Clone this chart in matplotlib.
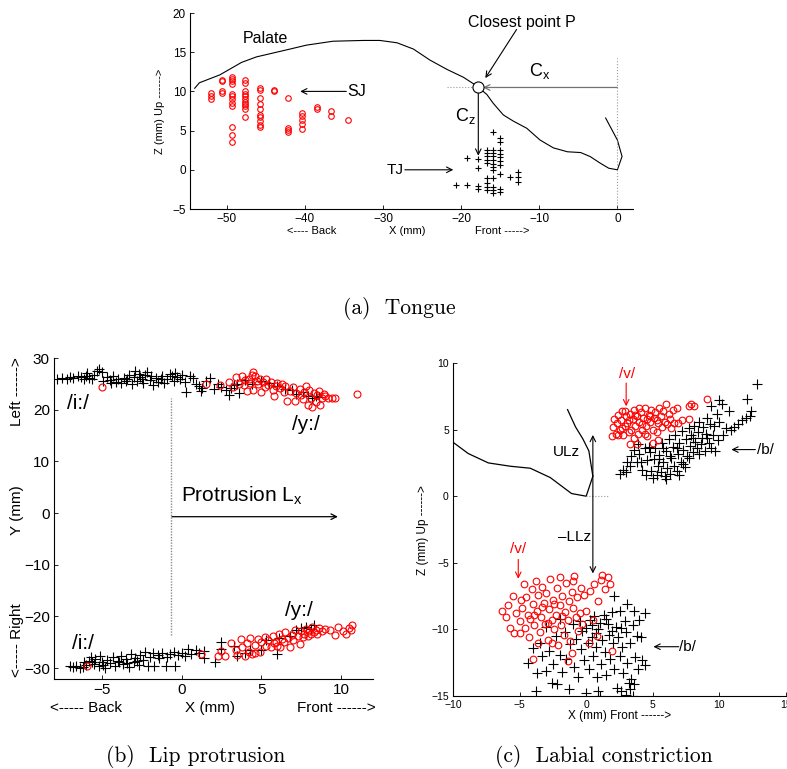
import numpy as np
import matplotlib
matplotlib.use("Agg")
import matplotlib.pyplot as plt

plt.rcParams['font.family'] = ['Liberation Sans', 'DejaVu Sans']
plt.rcParams['mathtext.fontset'] = 'custom'
plt.rcParams['mathtext.rm'] = 'Liberation Sans'
plt.rcParams['mathtext.it'] = 'Liberation Sans:italic'
plt.rcParams['axes.unicode_minus'] = True

# ---------------- Panel (a) data: Tongue ----------------
palate_x = [-54.1, -53.5, -50.9, -48.1, -46.2, -41.9, -39.8, -36.4, -32.5, -30.4, -28.2, -26.1,
            -24.0, -21.8, -19.7, -18.0, -16.7, -15.9, -14.6, -13.3, -11.6, -9.9, -8.2, -6.4,
            -4.7, -3.5, -2.2, -1.1, 0.0, 0.6, 0.0, -1.5]
palate_z = [10.4, 11.1, 12.1, 13.7, 14.4, 15.4, 15.9, 16.4, 16.5, 16.5, 16.2, 15.4,
            14.0, 12.8, 11.8, 10.7, 9.6, 8.5, 7.0, 6.2, 5.3, 3.8, 2.8, 2.3,
            2.2, 1.7, 0.85, 0.2, 0.0, 1.7, 3.8, 6.6]

sj_x = [-52.0, -52.0, -52.0,
        -50.6, -50.6, -50.6, -50.6,
        -49.3, -49.3, -49.3, -49.3, -49.3, -49.3, -49.3, -49.3, -49.3, -49.3, -49.3, -49.3,
        -47.6, -47.6, -47.6, -47.6, -47.6, -47.6, -47.6, -47.6, -47.6, -47.6, -47.6,
        -45.8, -45.8, -45.8, -45.8, -45.8, -45.8, -45.8, -45.8, -45.8, -45.8,
        -44.0, -44.0,
        -42.2, -42.2, -42.2, -42.2,
        -40.4, -40.4, -40.4, -40.4, -40.4,
        -38.5, -38.5, -36.6, -36.6, -34.5]
sj_z = [9.8, 9.4, 9.0,
        11.5, 11.3, 10.0, 9.8,
        11.9, 11.6, 11.3, 11.0, 9.7, 9.4, 9.0, 8.5, 8.2, 5.5, 4.5, 3.6,
        11.4, 11.1, 10.0, 9.7, 9.4, 9.0, 8.7, 8.4, 8.1, 7.7, 6.7,
        10.4, 10.2, 9.2, 8.4, 7.7, 7.0, 6.7, 6.2, 5.7, 5.4,
        10.2, 10.0,
        9.1, 5.3, 5.1, 4.8,
        7.3, 6.8, 6.3, 5.8, 5.2,
        8.0, 7.7, 7.5, 6.9, 6.3]

tj_x = [-15.9, -15.0, -15.0,
        -16.7, -16.7, -16.7, -16.7, -16.7,
        -15.9, -15.9, -15.9, -15.9, -15.9, -15.9, -15.9,
        -15.0, -15.0, -15.0, -15.0, -15.0,
        -19.3, -17.9, -17.9,
        -16.7, -15.9, -15.0, -13.8, -12.7, -12.7, -12.7,
        -20.6, -19.2, -17.9, -17.9,
        -16.7, -16.7, -16.7, -15.9, -15.9, -15.9, -15.0, -15.0]
tj_z = [4.8, 4.0, 3.6,
        2.5, 2.1, 1.7, 1.3, 0.9,
        2.5, 2.1, 1.7, 1.2, 0.8, 0.4, 0.0,
        2.5, 2.0, 1.6, 1.1, 0.6,
        1.5, 1.4, 0.2,
        -1.06, -1.06, -0.5, -0.9, -0.3, -0.9, -1.5,
        -2.0, -2.0, -2.1, -2.5,
        -1.7, -2.2, -2.6, -2.2, -2.6, -3.0, -2.4, -2.8]

P_x, P_z = -17.8, 10.5

# ---------------- Panel (b) data: Lip protrusion ----------------
up_i = [(-7.8,26.0),(-7.5,26.1),(-7.2,26.0),(-7.0,26.3),(-6.8,26.2),(-6.5,26.5),(-6.3,26.4),(-6.0,26.6),
        (-5.8,26.1),(-5.6,25.9),(-5.5,26.8),(-5.3,27.5),(-5.2,27.9),(-5.0,27.3),(-4.9,25.6),(-4.7,26.3),
        (-4.5,25.8),(-4.3,26.5),(-4.1,25.4),(-4.0,26.0),(-3.8,25.2),(-3.6,26.2),(-3.5,25.5),(-3.3,26.8),
        (-3.1,25.0),(-3.0,26.3),(-2.8,25.6),(-2.7,27.0),(-2.5,26.0),(-2.4,25.2),(-2.3,26.8),(-2.2,27.3),
        (-2.0,25.8),(-1.9,26.5),(-1.8,24.8),(-1.6,26.2),(-1.5,25.4),(-1.3,25.9),(-1.1,25.2),(-0.9,26.0),
        (-0.7,27.0),(-0.6,26.6),(-0.4,27.1),(-0.3,26.4),(-0.1,26.0),(0.0,26.8),(0.2,25.3),(0.3,23.4),
        (0.5,26.5),(0.7,26.2),(0.9,25.0),(1.1,24.6),(1.2,23.6),(1.3,24.2),(1.5,25.6),(1.8,26.2),
        (2.0,24.0),(2.3,25.0),(2.5,24.4),(2.8,23.8),(3.0,22.8),(3.1,24.2),(3.3,24.8),(3.5,25.0),
        (3.6,23.2),(4.0,25.8),(4.4,24.9),(5.0,25.5),(5.5,25.2),(6.0,24.5),(6.5,24.0),(6.9,23.8),
        (7.2,23.0),(7.6,23.4),(7.9,22.6),(8.2,22.2),(8.4,22.7),(8.6,22.4),
        (-6.1,25.9),(-4.4,25.1),(-3.4,26.0),(-2.6,26.4),(-1.2,26.6),(-0.5,25.6),(-5.9,27.1),(-2.9,27.4)]
up_y = [(-5.0,24.4),(1.5,25.0),(2.4,24.8),(3.0,25.3),(3.4,26.3),(3.6,25.0),(3.8,26.5),(3.9,24.7),
        (4.0,25.7),(4.1,23.6),(4.2,26.0),(4.3,25.2),(4.4,26.8),(4.5,27.2),(4.6,26.5),(4.7,25.6),
        (4.8,24.9),(4.9,26.0),(5.0,23.4),(5.1,25.3),(5.3,26.0),(5.4,24.8),(5.6,25.4),(5.8,22.6),
        (5.9,24.6),(6.0,25.2),(6.2,24.2),(6.3,25.0),(6.5,24.5),(6.6,21.7),(6.8,23.6),(7.0,24.4),
        (7.1,21.7),(7.2,23.2),(7.4,24.0),(7.5,22.9),(7.7,23.5),(7.8,24.6),(7.9,21.0),(8.0,23.9),
        (8.1,22.2),(8.2,20.6),(8.3,23.3),(8.4,21.4),(8.5,22.8),(8.6,23.6),(8.7,21.0),(8.8,22.3),
        (9.0,22.6),(9.2,22.2),(9.4,22.3),(9.6,22.3),(11.0,23.0),(6.4,23.5),(5.2,24.4),(7.6,22.0),
        (8.9,23.0),(3.2,24.4),(4.5,23.8),(5.7,23.9)]
lo_i = [(-7.0,-29.6),(-6.8,-29.8),(-6.6,-29.5),(-6.4,-29.9),(-6.2,-29.7),(-6.0,-29.4),(-5.8,-28.6),
        (-5.7,-27.9),(-5.5,-29.2),(-5.4,-28.2),(-5.2,-29.6),(-5.1,-27.6),(-5.0,-28.8),(-4.8,-29.9),
        (-4.7,-28.4),(-4.5,-29.0),(-4.3,-27.9),(-4.2,-29.5),(-4.0,-28.6),(-3.8,-27.6),(-3.7,-29.2),
        (-3.5,-28.2),(-3.3,-29.7),(-3.2,-27.3),(-3.0,-28.8),(-2.9,-28.0),(-2.7,-29.3),(-2.6,-27.5),
        (-2.4,-28.5),(-2.3,-26.8),(-2.1,-29.5),(-2.0,-27.8),(-1.8,-27.0),(-1.7,-29.6),(-1.5,-27.4),
        (-1.4,-28.0),(-1.2,-27.0),(-1.0,-29.6),(-0.9,-27.8),(-0.7,-27.2),(-0.5,-26.8),(-0.4,-29.6),
        (-0.2,-27.5),(0.0,-27.0),(0.2,-27.6),(0.4,-26.2),(0.6,-27.2),(0.9,-26.4),(1.1,-27.0),
        (1.4,-26.7),(1.4,-28.0),(2.1,-28.8),(2.5,-24.9),(2.5,-26.3),(3.3,-25.8),(3.5,-27.6),
        (4.0,-27.0),(4.3,-26.5),(5.0,-26.4),(5.3,-24.5),(6.0,-27.2),(6.1,-24.2),(6.8,-23.7),
        (7.2,-22.7),(7.5,-22.3),(7.8,-22.0),(8.1,-22.4),(8.3,-21.7),
        (-6.1,-28.9),(-4.9,-29.3),(-3.9,-28.9),(-2.8,-28.6),(-5.6,-28.9),(-3.4,-29.0)]
lo_y = [(-5.9,-29.6),(1.2,-27.2),(2.3,-27.7),(2.7,-27.7),(2.5,-26.6),(3.1,-25.1),(3.4,-26.4),
        (3.5,-27.5),(3.7,-24.4),(3.8,-26.0),(4.0,-27.6),(4.1,-25.1),(4.2,-26.8),(4.3,-24.2),
        (4.4,-27.3),(4.6,-25.6),(4.8,-24.3),(4.9,-26.8),(5.0,-25.0),(5.2,-23.9),(5.3,-25.7),
        (5.4,-24.6),(5.6,-26.0),(5.7,-23.8),(5.9,-24.9),(6.0,-25.8),(6.1,-23.4),(6.3,-24.4),
        (6.4,-25.0),(6.5,-23.0),(6.7,-24.1),(6.8,-26.0),(6.9,-23.5),(7.0,-24.6),(7.1,-22.6),
        (7.3,-23.7),(7.4,-25.4),(7.5,-22.9),(7.6,-24.0),(7.7,-23.3),(7.8,-22.4),(7.9,-23.8),
        (8.0,-22.9),(8.1,-23.4),(8.2,-22.1),(8.3,-23.0),(8.4,-22.6),(8.5,-23.3),(8.6,-22.3),
        (8.8,-22.8),(9.0,-22.5),(9.3,-22.6),(9.6,-23.6),(9.8,-22.1),(10.1,-22.8),(10.3,-23.3),
        (10.5,-22.3),(10.7,-21.7),(10.6,-22.6),(6.2,-26.0),(4.6,-27.0),(5.8,-25.2)]

# ---------------- Panel (c) data: Labial constriction ----------------
ul_x = [-10.0, -8.85, -7.35, -5.7, -4.2, -2.7, -1.1, 0.0, 0.5, 0.2, -0.25, -0.8, -1.4]
ul_z = [4.05, 3.2, 2.5, 2.25, 2.1, 1.4, 0.2, 0.0, 1.5, 3.4, 4.3, 5.2, 6.5]

c_up_v = [(1.9,4.5),(2.0,5.2),(2.1,5.8),(2.2,4.7),(2.3,5.5),(2.4,6.1),(2.5,5.0),(2.6,5.7),(2.7,6.4),
          (2.8,4.6),(2.9,5.3),(3.0,6.0),(3.1,5.5),(3.2,4.8),(3.3,6.2),(3.3,3.9),(3.4,5.0),(3.5,5.8),
          (3.6,6.5),(3.7,5.3),(3.8,3.9),(3.8,6.0),(3.9,4.7),(4.0,5.6),(4.1,6.3),(4.2,5.0),(4.3,5.9),
          (4.4,6.6),(4.5,5.3),(4.6,4.5),(4.7,6.1),(4.8,5.6),(4.9,6.5),(5.0,5.0),(5.1,5.9),(5.2,6.3),
          (5.3,4.8),(5.4,4.2),(5.4,5.5),(5.5,6.6),(5.6,6.0),(5.7,5.2),(5.8,6.4),(5.9,5.6),(6.0,6.9),
          (6.1,5.4),(6.2,6.2),(6.3,5.8),(6.4,5.1),(6.5,6.5),(6.6,5.5),(6.8,6.6),(6.9,5.5),(7.2,5.7),
          (7.7,5.8),(7.7,6.8),(7.9,6.9),(8.1,6.8),(9.1,7.3),(2.4,4.6),(3.6,4.4),(4.4,4.7),(5.0,4.0),
          (2.7,5.1),(4.0,6.6),(4.8,6.0),(3.2,5.7),(4.2,5.4),(5.3,5.7),(3.7,6.1),(4.6,5.8),(2.9,6.4)]
c_up_b = [(2.5,1.7),(2.8,2.0),(3.0,1.8),(3.1,2.6),(3.3,2.3),(3.4,3.0),(3.6,3.5),(3.8,2.6),(4.0,3.2),
          (4.2,2.0),(4.4,3.6),(4.5,1.6),(4.6,2.7),(4.8,3.3),(4.9,1.9),(5.0,1.4),(5.1,2.8),(5.2,3.6),
          (5.3,1.6),(5.4,2.3),(5.5,3.1),(5.6,1.8),(5.7,4.0),(5.8,2.6),(5.9,1.5),(6.0,3.4),(6.1,2.1),
          (6.2,4.3),(6.3,1.7),(6.4,2.9),(6.5,3.7),(6.6,2.3),(6.7,4.6),(6.8,1.9),(6.9,3.2),(7.0,4.0),
          (7.1,2.6),(7.2,4.9),(7.3,3.5),(7.4,2.2),(7.5,4.3),(7.6,3.0),(7.7,5.1),(7.8,3.8),(7.9,4.6),
          (8.0,3.3),(8.1,5.3),(8.2,4.1),(8.3,3.6),(8.4,4.8),(8.5,5.6),(8.6,3.9),(8.7,4.4),(8.8,5.2),
          (8.9,3.4),(9.0,4.7),(9.1,5.9),(9.2,4.0),(9.3,5.4),(9.4,3.6),(9.5,4.6),(9.6,5.3),(9.7,3.4),
          (9.8,6.2),(9.9,4.2),(10.0,5.6),(10.2,6.9),(10.3,4.6),(10.5,5.1),(10.7,6.4),(10.9,5.0),
          (11.1,5.2),(11.4,5.4),(11.7,5.7),(12.0,5.9),(12.1,7.3),(12.3,6.0),(12.4,6.4),(12.8,8.4),
          (7.0,1.6),(6.0,1.3),(5.5,2.8),(8.5,3.2),(3.9,3.9),(4.7,3.7),(9.4,6.8),(10.0,7.2),
          (6.3,3.0),(7.3,2.4),(5.8,3.6),(8.0,4.4),(9.1,4.4),(6.8,3.6),(7.7,2.9),(4.1,2.6)]
c_lo_v = [(-6.3,-8.6),(-6.0,-9.1),(-5.9,-8.2),(-5.7,-9.9),(-5.5,-7.5),(-5.4,-10.3),(-5.3,-8.8),
          (-5.0,-9.4),(-4.9,-7.8),(-4.8,-8.4),(-4.7,-6.6),(-4.6,-9.9),(-4.5,-7.6),(-4.4,-8.9),
          (-4.3,-10.6),(-4.2,-9.2),(-4.1,-7.0),(-4.0,-12.2),(-4.0,-8.1),(-3.9,-9.7),(-3.8,-6.4),
          (-3.7,-8.6),(-3.6,-7.4),(-3.5,-10.2),(-3.4,-9.1),(-3.3,-6.8),(-3.2,-8.0),(-3.1,-9.6),
          (-3.0,-7.3),(-2.9,-10.8),(-2.8,-8.5),(-2.7,-6.2),(-2.6,-9.3),(-2.5,-7.8),(-2.4,-10.0),
          (-2.3,-8.9),(-2.2,-6.9),(-2.1,-11.2),(-2.0,-8.2),(-1.9,-9.7),(-1.8,-7.5),(-1.7,-10.4),
          (-1.6,-8.7),(-1.5,-6.5),(-1.4,-12.4),(-1.4,-9.3),(-1.3,-7.9),(-1.2,-10.9),(-1.1,-11.8),
          (-1.0,-8.4),(-0.9,-6.0),(-0.8,-9.1),(-0.7,-7.6),(-0.6,-10.1),(-0.5,-8.8),(-0.4,-6.9),
          (-0.3,-9.6),(-0.2,-7.4),(0.0,-8.6),(0.2,-11.0),(0.3,-7.1),(0.5,-9.3),(0.6,-6.6),
          (0.8,-10.5),(0.9,-7.9),(1.1,-6.3),(1.2,-5.95),(1.4,-7.0),(1.6,-6.1),(1.8,-6.6),
          (1.9,-11.6),(-2.6,-11.0),(-3.6,-11.0),(-5.0,-10.3),(-2.0,-6.1),(-1.0,-6.4),
          (-3.3,-8.3),(-2.4,-8.1),(-1.8,-9.0),(-2.9,-9.5),(-3.9,-8.9),(-1.1,-7.2)]
c_lo_b = [(-4.4,-12.5),(-4.0,-11.4),(-3.8,-14.6),(-3.7,-13.3),(-3.5,-11.0),(-3.3,-12.0),(-3.0,-13.1),
          (-2.8,-11.6),(-2.6,-14.0),(-2.5,-12.6),(-2.3,-10.5),(-2.2,-14.1),(-2.0,-11.9),(-1.8,-13.2),
          (-1.6,-10.2),(-1.5,-12.2),(-1.3,-14.5),(-1.2,-11.1),(-1.0,-9.6),(-0.9,-12.8),(-0.8,-10.7),
          (-0.6,-13.6),(-0.5,-9.4),(-0.4,-11.5),(-0.3,-10.1),(-0.2,-12.3),(0.0,-14.8),(0.0,-9.9),
          (0.1,-11.0),(0.2,-13.0),(0.3,-9.3),(0.4,-10.6),(0.5,-12.0),(0.6,-9.0),(0.7,-11.3),
          (0.8,-13.6),(0.9,-14.6),(0.9,-10.0),(1.0,-9.5),(1.1,-12.6),(1.2,-10.8),(1.3,-8.9),
          (1.4,-11.7),(1.5,-13.4),(1.6,-9.6),(1.7,-10.4),(1.8,-12.2),(1.9,-8.7),(2.0,-11.0),
          (2.1,-7.5),(2.1,-13.0),(2.2,-9.8),(2.3,-14.4),(2.4,-10.6),(2.5,-12.0),(2.5,-8.6),
          (2.6,-14.6),(2.7,-11.3),(2.8,-13.3),(2.9,-9.4),(3.0,-10.2),(3.1,-8.1),(3.1,-12.5),
          (3.2,-14.0),(3.3,-11.0),(3.4,-13.7),(3.5,-9.7),(3.6,-8.6),(3.6,-14.1),(3.7,-12.1),
          (3.8,-10.5),(3.9,-13.0),(4.0,-9.3),(4.1,-10.6),(4.2,-12.3),(4.4,-8.8),(4.4,-12.7),
          (1.0,-15.0),(3.0,-14.9),(3.5,-15.0),(-3.0,-9.8),(-2.0,-9.2),(0.4,-9.7),(1.5,-9.2),
          (2.6,-9.9),(0.7,-10.3),(1.9,-10.1),(3.3,-14.5)]


def xy(pts):
    a = np.array(pts)
    return a[:, 0], a[:, 1]


def style(ax, fs):
    for s in ('top', 'right'):
        ax.spines[s].set_visible(False)
    for s in ('left', 'bottom'):
        ax.spines[s].set_linewidth(0.8)
    ax.tick_params(direction='in', length=3, width=0.6, labelsize=fs, pad=3)


W, H = 787, 769
fig = plt.figure(figsize=(W / 100, H / 100), dpi=100)


def rect(l, r, t, b):
    return [l / W, 1 - b / H, (r - l) / W, (b - t) / H]


red = '#ff0000'
circ = dict(linestyle='none', marker='o', mfc='none', mec=red, mew=0.8)
plus = dict(linestyle='none', marker='+', color='k', mew=0.8)
arrow_k = dict(arrowstyle='->', color='k', lw=0.8, shrinkA=0, shrinkB=0)
cap = dict(fontsize=15.5, family='cmr10', ha='center', va='center')

# ---------------- (a) ----------------
ax = fig.add_axes(rect(190, 633, 13, 209))
ax.set_xlim(-54.7, 2.0)
ax.set_ylim(-5, 20)
style(ax, 8.5)
ax.set_xticks([-50, -40, -30, -20, -10, 0])
ax.set_yticks([-5, 0, 5, 10, 15, 20])
ax.plot(palate_x, palate_z, color='k', lw=0.8)
ax.plot(sj_x, sj_z, ms=4, **circ)
ax.plot(tj_x, tj_z, ms=5, **plus)
ax.plot([-21.8, -18.4], [P_z, P_z], ls=':', color='0.6', lw=0.8)
ax.plot([0, 0], [-5, 14.2], ls=':', color='0.6', lw=0.8)
ax.annotate('', xy=(-17.2, P_z), xytext=(0, P_z),
            arrowprops=dict(arrowstyle='->', color='0.45', lw=0.9, shrinkA=0, shrinkB=0))
ax.annotate('', xy=(P_x, 1.8), xytext=(P_x, 10.0), arrowprops=arrow_k)
ax.plot([P_x], [P_z], marker='o', ms=8, mfc='white', mec='k', mew=0.8, zorder=5)
ax.annotate('', xy=(-16.9, 11.7), xytext=(-12.9, 17.9), arrowprops=arrow_k)
ax.text(-45.1, 16.8, 'Palate', fontsize=11.5, ha='center', va='center')
ax.text(-12.2, 18.75, 'Closest point P', fontsize=11.5, ha='center', va='center')
ax.text(-9.9, 12.6, r'C$_\mathrm{x}$', fontsize=13, ha='center', va='center')
ax.text(-19.4, 6.8, r'C$_\mathrm{z}$', fontsize=13, ha='center', va='center')
ax.text(-34.6, 9.95, 'SJ', fontsize=11.5, ha='left', va='center')
ax.annotate('', xy=(-40.6, 10.0), xytext=(-34.7, 10.0), arrowprops=arrow_k)
ax.text(-27.3, 0.0, 'TJ', fontsize=11, ha='right', va='center')
ax.annotate('', xy=(-21.0, 0.0), xytext=(-27.2, 0.0), arrowprops=arrow_k)
fig.text(160 / W, 1 - 111 / H, 'Z (mm) Up ------>', rotation=90, fontsize=8, ha='center', va='center')
fig.text(312 / W, 1 - 231 / H, '<---- Back', fontsize=8, ha='center', va='center')
fig.text(407 / W, 1 - 231 / H, 'X (mm)', fontsize=8, ha='center', va='center')
fig.text(502 / W, 1 - 231 / H, 'Front ----->', fontsize=8, ha='center', va='center')
fig.text(399 / W, 1 - 309 / H, '(a)  Tongue', **cap)

# ---------------- (b) ----------------
ax = fig.add_axes(rect(54, 373, 358, 679))
ax.set_xlim(-8, 12)
ax.set_ylim(-32.1, 30)
style(ax, 11)
ax.set_xticks([-5, 0, 5, 10])
ax.set_yticks([-30, -20, -10, 0, 10, 20, 30])
x, y = xy(up_i); ax.plot(x, y, ms=6.5, **plus)
x, y = xy(lo_i); ax.plot(x, y, ms=6.5, **plus)
x, y = xy(up_y); ax.plot(x, y, ms=5, **circ)
x, y = xy(lo_y); ax.plot(x, y, ms=5, **circ)
ax.plot([-0.65, -0.65], [-23.6, 22.2], ls=(0, (1, 1)), color='0.55', lw=1.0)
ax.annotate('', xy=(9.8, -0.7), xytext=(-0.6, -0.7),
            arrowprops=dict(arrowstyle='->', color='k', lw=0.9, shrinkA=0, shrinkB=0))
ax.text(-0.05, 3.4, r'Protrusion L$_\mathrm{x}$', fontsize=15, ha='left', va='center')
ax.text(-7.2, 21.2, '/i:/', fontsize=15, ha='left', va='center')
ax.text(6.9, 17.1, '/y:/', fontsize=15, ha='left', va='center')
ax.text(-6.9, -25.3, '/i:/', fontsize=15, ha='left', va='center')
ax.text(6.5, -18.8, '/y:/', fontsize=15, ha='left', va='center')
fig.text(17 / W, 1 - 392 / H, 'Left ------>', rotation=90, fontsize=11, ha='center', va='center')
fig.text(17 / W, 1 - 510 / H, 'Y (mm)', rotation=90, fontsize=11, ha='center', va='center')
fig.text(17 / W, 1 - 640 / H, '<----- Right', rotation=90, fontsize=11, ha='center', va='center')
fig.text(86 / W, 1 - 708 / H, '<----- Back', fontsize=11, ha='center', va='center')
fig.text(210 / W, 1 - 708 / H, 'X (mm)', fontsize=11, ha='center', va='center')
fig.text(336 / W, 1 - 708 / H, 'Front ------>', fontsize=11, ha='center', va='center')
fig.text(196 / W, 1 - 757 / H, '(b)  Lip protrusion', **cap)

# ---------------- (c) ----------------
ax = fig.add_axes(rect(453, 786, 363, 696))
ax.set_xlim(-10, 15)
ax.set_ylim(-15, 10)
style(ax, 7.5)
ax.set_xticks([-10, -5, 0, 5, 10, 15])
ax.set_yticks([-15, -10, -5, 0, 5, 10])
ax.plot(ul_x, ul_z, color='k', lw=0.9)
ax.plot([0.0, 1.7], [0, 0], ls=':', color='0.6', lw=0.8)
x, y = xy(c_up_b); ax.plot(x, y, ms=6.5, **plus)
x, y = xy(c_lo_b); ax.plot(x, y, ms=6.5, **plus)
x, y = xy(c_up_v); ax.plot(x, y, ms=4.8, **circ)
x, y = xy(c_lo_v); ax.plot(x, y, ms=4.8, **circ)
ax.annotate('', xy=(0.5, 4.6), xytext=(0.5, 1.5), arrowprops=arrow_k)
ax.annotate('', xy=(0.5, -5.8), xytext=(0.5, 1.5), arrowprops=arrow_k)
ax.text(-1.45, 3.3, 'ULz', fontsize=11, ha='center', va='center')
ax.text(-0.9, -3.1, '\u2013LLz', fontsize=11, ha='center', va='center')
ax.text(3.05, 9.2, '/v/', fontsize=11, color=red, ha='center', va='center')
ax.annotate('', xy=(3.0, 6.75), xytext=(3.0, 8.5),
            arrowprops=dict(arrowstyle='->', color=red, lw=0.8, shrinkA=0, shrinkB=0))
ax.text(-5.1, -4.0, '/v/', fontsize=11, color=red, ha='center', va='center')
ax.annotate('', xy=(-5.1, -6.2), xytext=(-5.1, -4.75),
            arrowprops=dict(arrowstyle='->', color=red, lw=0.8, shrinkA=0, shrinkB=0))
ax.text(12.8, 3.45, '/b/', fontsize=11, ha='left', va='center')
ax.annotate('', xy=(10.9, 3.5), xytext=(12.7, 3.5), arrowprops=arrow_k)
ax.text(7.0, -11.3, '/b/', fontsize=11, ha='left', va='center')
ax.annotate('', xy=(5.05, -11.3), xytext=(6.95, -11.3), arrowprops=arrow_k)
fig.text(423 / W, 1 - 530 / H, 'Z (mm) Up ------>', rotation=90, fontsize=8.5, ha='center', va='center')
fig.text(620 / W, 1 - 716 / H, 'X (mm) Front ------>', fontsize=8.5, ha='center', va='center')
fig.text(604 / W, 1 - 757 / H, '(c)  Labial constriction', **cap)

fig.savefig('out.png', dpi=100)
